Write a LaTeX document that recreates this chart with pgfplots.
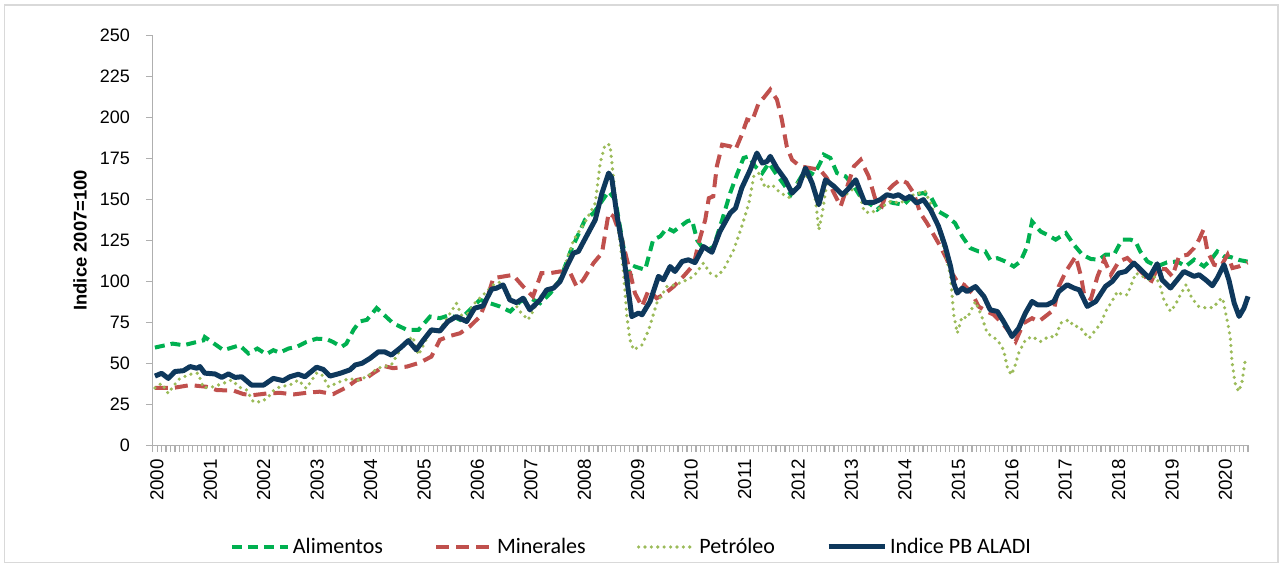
\documentclass[border=0pt]{standalone}
\usepackage{pgfplots}
\pgfplotsset{compat=1.18}
\usepackage{fontspec}
\setmainfont{Carlito}
\newfontfamily\arialfont{Liberation Sans}
\definecolor{alim}{RGB}{0,176,80}
\definecolor{miner}{RGB}{192,80,77}
\definecolor{petro}{RGB}{155,187,89}
\definecolor{navy}{RGB}{14,56,92}
\definecolor{axgray}{RGB}{175,175,175}
\begin{document}
\begin{tikzpicture}
\begin{axis}[
  scale only axis,
  width=547.65pt, height=205pt,
  xmin=-0.5, xmax=245.5,
  ymin=0, ymax=250,
  ytick={0,25,...,250},
  xtick={-0.5,0.5,...,245.5},
  xticklabel={\pgfmathtruncatemacro\mm{round(\tick+0.5)}\pgfmathtruncatemacro\rr{mod(\mm,12)}\ifnum\rr=0 \pgfmathtruncatemacro\yy{2000+\mm/12}\yy\fi},
  /pgf/number format/assume math mode=true,
  axis x line*=bottom, axis y line*=left,
  axis line style={-, draw=axgray, line width=0.8pt},
  xtick pos=bottom, ytick pos=left,
  xtick align=outside, ytick align=outside,
  major tick length=3.4pt,
  tick style={draw=axgray, line width=0.6pt, solid},
  yticklabel style={font=\arialfont\fontsize{9}{10}\selectfont, xshift=-4.5pt},
  xticklabel style={font=\arialfont\fontsize{9.4}{10}\selectfont, xshift=1.6pt, rotate=90, anchor=east, yshift=-0.5pt},
  ylabel={\textbf{Indice 2007=100}},
  ylabel style={font=\arialfont\fontsize{9.2}{10}\selectfont, at={(axis description cs:-0.0664,0.5)}, anchor=center},
  legend columns=4,
  legend style={draw=none, fill=none, at={(rel axis cs:0.4376,-0.248)}, anchor=center,
    font=\fontsize{11}{12}\selectfont, /tikz/every even column/.append style={column sep=24pt},
    nodes={inner sep=1.5pt}},
  legend image code/.code={\draw[#1] (0pt,0pt) -- (28pt,0pt);},
  clip=false,
]
\addplot[alim, line width=2pt, dash pattern=on 5pt off 3pt] coordinates {
(0,59.6)(4,62)(6.4,61)(10.9,64)(11.2,66)(15.4,58)(19,61)(21,56)(23,59)(25,55.5)(26.6,58)(28,56.5)(30,59)(31.8,60)(34,63)(36.3,65)(38.6,64.7)(40,63)(41.9,60)(43,62)(44.6,70.4)(46,75.5)(47.6,76.5)(49.8,83.7)(53.5,74.4)(56.6,70.4)(59.2,70.4)(61.8,78.5)(64,77.5)(66.3,79.5)(68.5,76.5)(71.5,84.6)(73,88.7)(75.3,86.6)(77.5,84.6)(79.8,81.6)(82,87.6)(84.3,89.7)(86.5,86.6)(88.8,92.7)(91,100.9)(93.3,118)(96.6,137.5)(98.5,141.6)(101.9,154.8)(103.4,149.8)(105.2,121.3)(106.7,103)(107.8,109)(110.1,107)(111.9,125.3)(113.5,127.4)(115,132.5)(116.5,130.4)(119.5,136.5)(120.6,137.5)(121.8,125)(123.6,118.2)(125.5,121.2)(127.4,137.5)(129.2,153.8)(130.7,165)(132.2,175.2)(133.4,176.2)(134.8,170.1)(136.4,166)(137.9,172.1)(139.4,166)(141.3,158.9)(142.8,152.8)(144.3,159.9)(146.1,168)(148,165)(149.4,172.1)(150.2,177.2)(151.7,175.2)(153.2,166)(155.1,164)(157,157.9)(158.9,149.7)(160.7,147)(162.2,143.7)(164.4,148.7)(165.9,147.7)(168.2,146.7)(170.4,152.8)(172.6,153.8)(174.2,151.8)(176,142.6)(177.9,139.6)(179.7,135.5)(181.3,127.4)(183.1,120.3)(185,118.2)(186.5,118.2)(187.6,113.1)(189.2,114.1)(191,112.1)(192.9,109)(194.4,112.1)(195.9,121.3)(197,136.5)(198.9,130.4)(200.4,128.4)(202.3,125.4)(204.6,129.4)(206.4,122.3)(208.3,116.2)(210.2,113.6)(212,113.2)(213.5,116.2)(215.4,116.2)(217.2,125.4)(219.1,125.4)(220.2,124.4)(221.3,118.2)(222.9,112.1)(225.1,109.1)(227.3,111.5)(229.6,112.1)(231.5,109.1)(233.4,113.2)(235.6,109.1)(237.2,113.2)(238.6,118.2)(240.1,115.2)(241.6,114.8)(243.5,113)(245.4,112)
};
\addlegendentry{Alimentos}
\addplot[miner, line width=2pt, dash pattern=on 6.5pt off 3.5pt] coordinates {
(0,35)(4.1,35)(7.9,36.7)(11.6,35.7)(13.9,33.7)(17.7,33.3)(19.9,31.2)(22.1,30.6)(25.1,31.6)(28.1,32)(31.1,31)(34,32)(37,32.7)(40,31.2)(43,35.3)(45.3,39.8)(47.6,41.2)(49,43.9)(50.2,46)(51.3,48.4)(53.5,47)(56.6,48)(59.5,50.4)(62.1,54.1)(64,64.3)(66.3,66.7)(68.5,68.3)(70.7,72.4)(73,78.5)(74.5,88.7)(76,101.9)(78.2,102.9)(80.4,103.9)(82.7,96.8)(84.9,90.7)(86.8,105)(88.8,105)(91,106)(93.3,105)(94.7,96.8)(96.2,100.9)(98.5,111.1)(100.4,117.2)(101.9,141.6)(103,139.6)(104.9,125.3)(106.4,109)(107.8,92.8)(109.4,84.6)(110.9,94.8)(112.7,89.7)(114.2,91.8)(116.5,96.8)(118.7,103)(121,110.1)(122.1,123.3)(123.6,137.5)(124.4,150.7)(125.4,151.8)(126.2,170.1)(127.4,183.3)(129.2,182.3)(130.4,180.3)(131.8,189.4)(133,198.6)(134.1,197.6)(135.6,208.7)(136.7,211.8)(138.2,216.9)(139.7,210.8)(140.8,198.6)(141.9,182.3)(143.1,174.1)(144.9,170.1)(147.2,169)(149.4,168)(150.9,163)(152.5,153.8)(154,145.7)(155.5,157.9)(157,170.1)(158.5,174.1)(160.3,164)(161.8,150)(163.3,146)(164.4,154.8)(165.9,158.9)(167.4,162)(168.9,160)(170.4,153.8)(171.9,141.6)(173.4,135.5)(174.9,128.4)(176.4,121.3)(177.9,113.1)(179,105)(180.2,99.9)(181.7,97.9)(183.5,92.8)(185,84.6)(186.9,81.6)(188.4,79.6)(190.6,73.5)(192.1,68.4)(193.3,63.3)(195.1,74.5)(197,77.5)(198.5,75.5)(200.4,79.5)(201.9,82.6)(203,96.9)(204.6,106)(206.8,115.2)(208,103)(208.7,91.8)(210.2,89.1)(211.7,103)(213.2,113.2)(214.7,104)(216.5,112.1)(218.4,114.2)(220.3,109.1)(222.1,104)(223.6,98.9)(225.1,107.5)(227,107.5)(228.5,103)(230,115.2)(231.9,116.2)(233.4,120.3)(234.5,125.4)(235.5,131.5)(236.4,118.2)(237.9,110.1)(239.4,109.1)(240.9,116.2)(242,108.1)(243.5,109.1)(245.4,111.5)
};
\addlegendentry{Minerales}
\addplot[petro, line width=1.8pt, line cap=round, dash pattern=on 0pt off 3.2pt] coordinates {
(0,35)(1.5,37.8)(3,31.6)(4.1,36)(5.6,40.8)(7.9,43.3)(9.7,44)(10.9,35)(13.1,35.7)(15.4,37.8)(17.2,39.8)(19.1,35.3)(20.6,33.7)(22.1,26.5)(24,26.5)(25.5,29.6)(26.6,33.3)(28.1,35.7)(30.3,36.7)(32.2,39.8)(34,34.7)(36.3,44)(37.4,43.5)(39,35.7)(41.6,38.8)(43.8,40.8)(45.3,39.4)(47.6,41.8)(50,47)(53.1,49)(55.7,61.2)(57.9,66.3)(59.2,55.1)(61.8,69.3)(64,70.4)(66.3,80.5)(67.7,86.6)(69.3,76.5)(71.8,86.6)(74.5,93.8)(76,97.8)(77.8,99.9)(79.3,92.7)(82,81.6)(83.8,76.5)(84.9,81.6)(86.5,90.7)(89,95.8)(91,100.9)(94,125)(96.9,137.5)(98.9,147.7)(100,172.1)(101.1,183.3)(102.2,183.3)(102.6,173.2)(104.1,131.4)(105.2,107)(106,78.5)(106.7,64.3)(107.5,58.2)(109.4,61.2)(110.9,70.4)(112.7,86.6)(115,96.8)(116.8,97.8)(118.7,99.9)(121,103)(123.2,111.1)(124.7,105)(126.2,103)(127.7,107)(130,119.2)(131.8,133.4)(133.4,147.7)(134.5,164)(135.6,166)(137.1,156.9)(138.6,158.9)(140.5,153.8)(142.8,150.7)(144.3,159.9)(146.1,165)(148,157.9)(148.7,141.6)(149.1,131.4)(149.9,141.6)(151,161.9)(152.8,157.9)(154.7,151.8)(156.2,154.8)(157.7,158.9)(159.3,142.6)(160.7,141.6)(162.9,144.7)(165.2,148.7)(167.4,147.7)(170.4,152.8)(173,154.8)(174.5,145.7)(176,131.4)(177.5,117.2)(178.7,103)(179.4,79.6)(180.2,68.4)(181.3,78.5)(182.4,77.5)(184.3,87.7)(185.7,78.5)(186.9,68.4)(189.2,64.3)(190.6,58.2)(191.4,48)(192.3,43)(193,47)(194,56.2)(195.5,64.3)(197,66.3)(198.9,63.3)(200.8,66.4)(202.3,66)(203.4,74.5)(205.3,76.5)(206.4,72.5)(207.6,72.5)(209.1,67.4)(209.8,65.3)(211,69.4)(212.5,74.5)(213.5,81.6)(214.7,86.7)(216.2,93.8)(217.2,91.8)(218.4,91.8)(220.3,105)(221.8,103)(223.3,101)(224.8,103)(225.8,96.9)(226.6,88.7)(228.1,81.6)(229.2,85.7)(230.3,91.8)(231.6,97.9)(232.9,89.7)(234.4,84.7)(236.2,83.7)(237.8,84.1)(238.9,88.3)(239.8,89.8)(240.8,76.5)(241.5,66.4)(241.9,51.1)(242.6,37.9)(243.4,32.8)(244.1,37.9)(244.9,52.1)
};
\addlegendentry{Petróleo}
\addplot[navy, line width=2.5pt, line join=round] coordinates {
(0,42.2)(1.5,43.9)(3,40.8)(4.5,45)(6.4,45.5)(7.9,48)(9.4,47)(10.1,48)(11.2,44)(13.5,43.5)(15,41.4)(16.5,43.5)(18,41.4)(19.5,41.8)(21.7,36.7)(24.4,36.7)(26.6,40.8)(28.8,39.4)(30.3,41.8)(32.2,43.3)(33.7,41.8)(36.3,47.6)(37.8,46.3)(39.3,42.2)(41.6,43.9)(43.8,46)(45,49)(46.5,50)(48.3,53)(50.2,57)(51.6,57)(53.1,55)(55.3,59.8)(56.9,63.8)(58.7,58.2)(60.2,63.8)(62.1,70.4)(64,69.7)(65.8,75.5)(67.7,78.5)(70,75.5)(71.8,83.6)(73.7,85)(75.6,95.2)(76.7,95.8)(78.2,97.8)(79.7,88.7)(81.2,87)(82.7,89.7)(84.2,82.6)(86.5,88.7)(88,94.8)(89.5,95.8)(91,99.9)(92.5,109)(94,117.2)(95.1,118.2)(96.9,127.4)(98.9,137.5)(100.4,153.8)(101.9,166)(102.6,163)(103.8,139.6)(104.9,123.3)(106,100.9)(107.1,78.5)(108.6,80.6)(109.4,79.6)(111.2,87.7)(113.1,103)(114.2,100.9)(115.7,109)(116.8,106)(118.4,112.1)(119.8,113.1)(121.3,111.4)(123.2,121.2)(125.1,117.7)(126.9,130.4)(129.2,141.6)(130.4,144.6)(131.8,156.9)(133.7,168)(135.2,178.2)(136.4,172.1)(137.5,173.1)(138.2,176.2)(139.7,169)(141.6,161.9)(143.1,153.8)(144.6,157.9)(146.1,169)(147.6,159.9)(149.1,146.7)(150.6,161.9)(152.5,157.9)(154.4,152.8)(155.9,156.9)(157.4,161.9)(159.4,148)(161.4,148.1)(162.9,149.8)(164.4,152.8)(165.9,151.8)(167,152.8)(168.5,150.2)(169.6,151.8)(171.1,147.7)(172.6,149.8)(174.2,143.6)(176,133.5)(177.5,121.3)(178.7,109)(179.4,98.9)(180.2,92.8)(181.3,95.8)(182.4,93.8)(184.3,96.8)(186.2,90.7)(187.6,82.6)(189.2,81.6)(190.6,75.5)(192.5,66.3)(194,71.4)(195.5,80.6)(197,87.7)(198.2,85.7)(200.4,85.7)(201.9,87.7)(203,93.8)(204.9,97.9)(206.4,95.9)(207.6,94.8)(209.4,84.7)(211.3,87.7)(213.5,96.9)(215,99.9)(216.5,105)(218,106)(219.9,111.1)(221.8,106)(223.3,102)(225.1,110.7)(226.2,100.9)(228.1,95.9)(229.6,100.9)(231.1,106)(233.4,103)(234.5,104)(236,100.9)(237.5,97.3)(238.6,102)(240.1,110.1)(241.2,100.9)(242.4,86.7)(243.5,78.6)(244.6,83.7)(245.5,90.8)
};
\addlegendentry{Indice PB ALADI}
\end{axis}
\draw[draw={rgb,255:red,217;green,217;blue,217}, line width=0.6pt] (-74pt,-58.4pt) rectangle (562.6pt,220.1pt);
\pgfresetboundingbox
\path[use as bounding box] (-76.35pt,-60.85pt) rectangle (565.15pt,222.65pt);
\end{tikzpicture}
\end{document}
